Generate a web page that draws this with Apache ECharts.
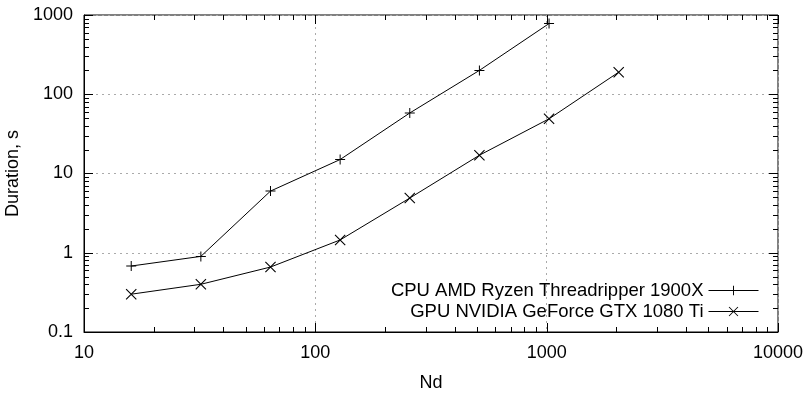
<!DOCTYPE html>
<html>
<head>
<meta charset="utf-8">
<script src="https://cdn.jsdelivr.net/npm/echarts@6/dist/echarts.min.js"></script>
<style>
  html, body { margin: 0; padding: 0; background: #fff; }
  #chart { width: 809px; height: 393px; }
</style>
</head>
<body>
<div id="chart"></div>
<script>
// data
const nd = [16, 32, 64, 128, 256, 512, 1024, 2048]
const cpuTimes = [0.68, 0.9, 6, 15, 58, 200, 780]
const gpuTimes = [0.3, 0.4, 0.66, 1.45, 4.9, 17, 49, 190]
const seriesNames = ['CPU AMD Ryzen Threadripper 1900X', 'GPU NVIDIA GeForce GTX 1080 Ti']
const xDecades = [10, 100, 1000, 10000]
const yDecades = [0.1, 1, 10, 100, 1000]

const FONT = 'Liberation Sans, Arial, Helvetica, sans-serif'
const plusPath = 'path://M0,4.5H10V5.5H0Z M4.5,0H5.5V10H4.5Z'
const crossPath = 'path://M0,0.7L0.7,0L10,9.3L9.3,10Z M9.3,0L10,0.7L0.7,10L0,9.3Z'

const pairs = (xs, ys) => ys.map((v, i) => [xs[i], v])
const plainLabel = (v) => String(Number(v.toPrecision(6)))

const chart = echarts.init(document.getElementById('chart'))

const option = {
  animation: false,
  textStyle: { fontFamily: FONT },
  grid: {
    left: 84, right: 31, top: 15, bottom: 61,
    outerBoundsMode: 'none',
    show: true, borderColor: '#000', borderWidth: 1
  },
  legend: {
    orient: 'vertical',
    right: 50,
    top: 281,
    align: 'right',
    itemWidth: 50,
    itemHeight: 12,
    itemGap: 2,
    padding: 0,
    lineStyle: { width: 1 },
    textStyle: { fontSize: 18.5, color: '#000', fontFamily: FONT },
    data: seriesNames
  },
  xAxis: {
    type: 'log',
    logBase: 10,
    min: xDecades[0],
    max: xDecades[xDecades.length - 1],
    name: 'Nd',
    nameLocation: 'middle',
    nameGap: 42,
    nameTextStyle: { fontSize: 18, color: '#000' },
    axisLine: { show: true, lineStyle: { color: '#000', width: 1 } },
    axisTick: { show: false },
    axisLabel: { fontSize: 18, color: '#000', margin: 12, formatter: plainLabel },
    splitLine: { show: true, lineStyle: { color: '#aaa', type: [2, 4], width: 1 } }
  },
  yAxis: {
    type: 'log',
    logBase: 10,
    min: yDecades[0],
    max: yDecades[yDecades.length - 1],
    name: 'Duration, s',
    nameLocation: 'middle',
    nameGap: 59,
    nameTextStyle: { fontSize: 18, color: '#000' },
    axisLine: { show: true, lineStyle: { color: '#000', width: 1 } },
    axisTick: { show: false },
    axisLabel: { fontSize: 18, color: '#000', margin: 11, formatter: plainLabel },
    splitLine: { show: true, lineStyle: { color: '#aaa', type: [2, 4], width: 1 } }
  },
  series: [
    {
      name: seriesNames[0],
      type: 'line',
      data: pairs(nd, cpuTimes),
      symbol: plusPath,
      symbolSize: 10,
      showAllSymbol: true,
      lineStyle: { color: '#000', width: 1 },
      itemStyle: { color: '#000' }
    },
    {
      name: seriesNames[1],
      type: 'line',
      data: pairs(nd, gpuTimes),
      symbol: crossPath,
      symbolSize: 11,
      showAllSymbol: true,
      lineStyle: { color: '#000', width: 1 },
      itemStyle: { color: '#000' }
    }
  ]
}

chart.setOption(option)

// tick marks on all four sides, placed through the chart's own scales
const drawTicks = () => {
  const toPx = (x, y) => chart.convertToPixel({ gridIndex: 0 }, [x, y])
  const [x0, y0] = toPx(xDecades[0], yDecades[0])
  const [x1, y1] = toPx(xDecades[xDecades.length - 1], yDecades[yDecades.length - 1])
  const elements = []
  const tick = (shape) => elements.push({
    type: 'line', shape, silent: true,
    style: { stroke: '#000', lineWidth: 1 }
  })

  const xTicks = []
  xDecades.forEach((d, i) => {
    xTicks.push([d, 9])
    if (i < xDecades.length - 1) for (let k = 2; k <= 9; k++) xTicks.push([d * k, 5])
  })
  xTicks.forEach(([v, len]) => {
    const px = Math.round(toPx(v, yDecades[0])[0]) + 0.5
    tick({ x1: px, y1: y0, x2: px, y2: y0 - len })
    tick({ x1: px, y1: y1, x2: px, y2: y1 + len })
  })

  const yTicks = []
  yDecades.forEach((d, i) => {
    yTicks.push([d, 9])
    if (i < yDecades.length - 1) for (let k = 2; k <= 9; k++) yTicks.push([d * k, 5])
  })
  yTicks.forEach(([v, len]) => {
    const py = Math.round(toPx(xDecades[0], v)[1]) + 0.5
    tick({ x1: x0, y1: py, x2: x0 + len, y2: py })
    tick({ x1: x1, y1: py, x2: x1 - len, y2: py })
  })

  chart.setOption({ graphic: elements })
}

drawTicks()
</script>
</body>
</html>
